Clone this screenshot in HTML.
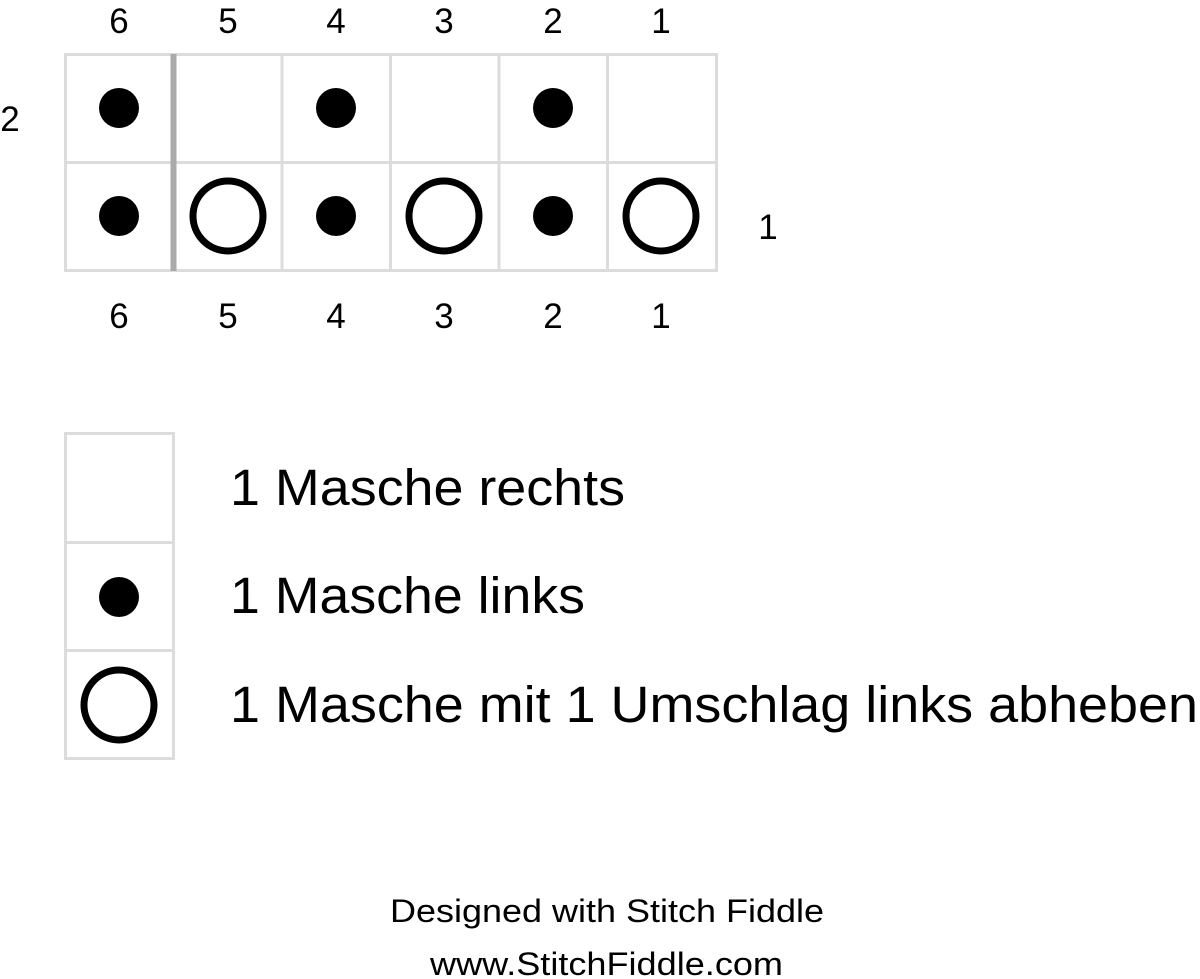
<!DOCTYPE html>
<html><head><style>
html,body{margin:0;padding:0;background:#fff;}
svg{display:block;}
text{font-family:"Liberation Sans",Arial,sans-serif;fill:#000;}
</style></head><body>
<svg width="1200" height="979" viewBox="0 0 1200 979">
<g font-size="35" text-anchor="middle">
<text x="119" y="33">6</text><text x="228" y="33">5</text><text x="336" y="33">4</text><text x="444" y="33">3</text><text x="553" y="33">2</text><text x="661" y="33">1</text>
<text x="119" y="328">6</text><text x="228" y="328">5</text><text x="336" y="328">4</text><text x="444" y="328">3</text><text x="553" y="328">2</text><text x="661" y="328">1</text>
<text x="10" y="131">2</text><text x="768" y="239">1</text>
</g>
<g stroke="#dcdcdc" stroke-width="3" fill="none">
<rect x="65.5" y="54.5" width="651" height="216"/>
<line x1="65" y1="162.5" x2="716" y2="162.5"/>
<line x1="282" y1="54" x2="282" y2="270"/>
<line x1="390.5" y1="54" x2="390.5" y2="270"/>
<line x1="499" y1="54" x2="499" y2="270"/>
<line x1="607.5" y1="54" x2="607.5" y2="270"/>
<rect x="65.5" y="433.5" width="108" height="325"/>
<line x1="65" y1="542.5" x2="173" y2="542.5"/>
<line x1="65" y1="650.5" x2="173" y2="650.5"/>
</g>
<line x1="173.5" y1="54" x2="173.5" y2="271" stroke="#aaa" stroke-width="6"/>
<g fill="#000">
<circle cx="119" cy="108" r="20"/><circle cx="336" cy="108" r="20"/><circle cx="553" cy="108" r="20"/>
<circle cx="119" cy="216" r="20"/><circle cx="336" cy="216" r="20"/><circle cx="553" cy="216" r="20"/>
<circle cx="119" cy="597" r="20"/>
</g>
<g fill="none" stroke="#000" stroke-width="7">
<circle cx="228" cy="216" r="35"/><circle cx="444" cy="216" r="35"/><circle cx="661" cy="216" r="35"/>
<circle cx="119" cy="705" r="35"/>
</g>
<g font-size="51">
<text x="230" y="505" textLength="395" lengthAdjust="spacingAndGlyphs">1 Masche rechts</text>
<text x="230" y="613" textLength="355" lengthAdjust="spacingAndGlyphs">1 Masche links</text>
<text x="230" y="722" textLength="968" lengthAdjust="spacingAndGlyphs">1 Masche mit 1 Umschlag links abheben</text>
</g>
<g font-size="32">
<text x="390" y="922" textLength="434" lengthAdjust="spacingAndGlyphs">Designed with Stitch Fiddle</text>
<text x="430" y="975" textLength="353" lengthAdjust="spacingAndGlyphs">www.StitchFiddle.com</text>
</g>
</svg>
</body></html>
